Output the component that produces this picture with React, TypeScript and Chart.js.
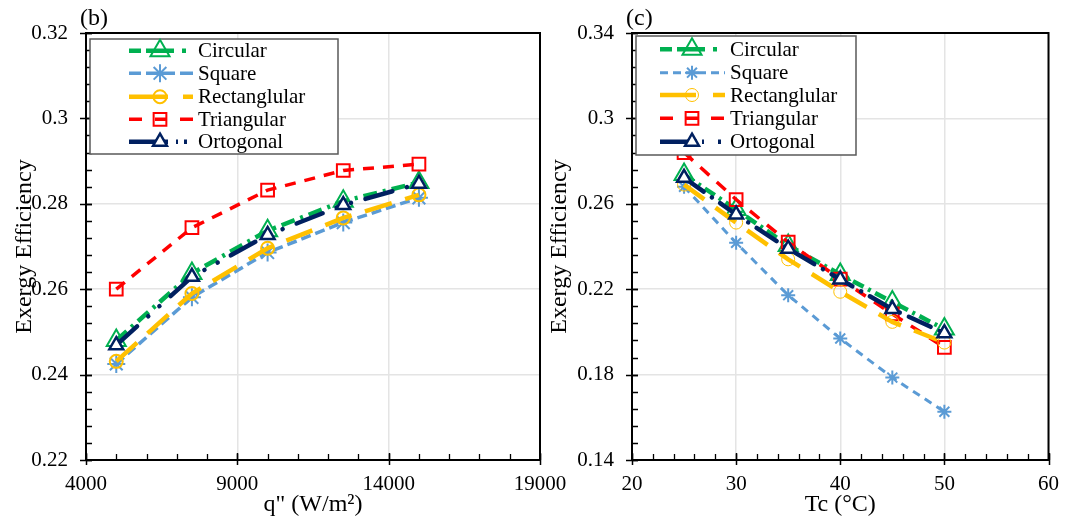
import React, { useEffect, useRef } from 'react';
import { Chart, registerables } from 'chart.js';
import { drawPoint } from 'chart.js/helpers';

Chart.register(...registerables);

// ---------- DATA ----------
const seriesNames = ['Circular', 'Square', 'Rectanglular', 'Triangular', 'Ortogonal'];

// (b) exergy efficiency vs heat flux q"
const heatFlux = [5000, 7500, 10000, 12500, 15000];
const circularB = [0.248, 0.2637, 0.2737, 0.2806, 0.285];
const squareB = [0.2425, 0.2581, 0.2686, 0.2756, 0.2814];
const rectangularB = [0.2431, 0.259, 0.2696, 0.2767, 0.2821];
const triangularB = [0.26, 0.2744, 0.2832, 0.2878, 0.2893];
const ortogonalB = [0.2469, 0.2629, 0.2727, 0.2797, 0.2847];

// (c) exergy efficiency vs Tc
const tcValues = [25, 30, 35, 40, 45, 50];
const circularC = [0.2737, 0.2573, 0.2405, 0.2269, 0.214, 0.2013];
const squareC = [0.268, 0.2417, 0.2172, 0.1969, 0.1786, 0.1626];
const rectangularC = [0.269, 0.2512, 0.234, 0.2188, 0.2047, 0.195];
const triangularC = [0.284, 0.262, 0.242, 0.2247, 0.2084, 0.1928];
const ortogonalC = [0.2722, 0.255, 0.239, 0.2246, 0.2107, 0.1994];

// ticks
const xTicksB = [4000, 9000, 14000, 19000];
const xTickLabelsB = ['4000', '9000', '14000', '19000'];
const yTicksB = [0.22, 0.24, 0.26, 0.28, 0.3, 0.32];
const yTickLabelsB = ['0.22', '0.24', '0.26', '0.28', '0.3', '0.32'];

const xTicksC = [20, 30, 40, 50, 60];
const xTickLabelsC = ['20', '30', '40', '50', '60'];
const yTicksC = [0.14, 0.18, 0.22, 0.26, 0.3, 0.34];
const yTickLabelsC = ['0.14', '0.18', '0.22', '0.26', '0.3', '0.34'];

const yTitle = 'Exergy Efficiency';
const xTitleB = 'q" (W/m²)';
const xTitleC = 'Tc (°C)';
const panelB = '(b)';
const panelC = '(c)';

// ---------- STYLES ----------
const SERIF = '"Liberation Serif", "Times New Roman", serif';
const GREEN = '#00B050';
const BLUE = '#5B9BD5';
const YELLOW = '#FFC000';
const RED = '#FF0000';
const NAVY = '#002060';

type Style = {
  color: string;
  width: number;
  dash: number[];
  cap: CanvasLineCap;
  point: string;
  radius: number;
  pbw: number;
  bg: string;
  order: number;
  legendDash: number[];
  legendCap?: CanvasLineCap;
};

const stylesB: Style[] = [
  { color: GREEN, width: 4.5, dash: [14, 6, 3, 6], cap: 'butt', point: 'triangle', radius: 11, pbw: 2, bg: 'rgba(0,0,0,0)', order: 3, legendDash: [12, 5, 28, 8, 4, 20] },
  { color: BLUE, width: 3.5, dash: [10, 5], cap: 'butt', point: 'star', radius: 9, pbw: 2, bg: 'rgba(0,0,0,0)', order: 4, legendDash: [12, 5, 29, 5, 13, 10] },
  { color: YELLOW, width: 4.5, dash: [28, 14], cap: 'butt', point: 'circle', radius: 6.5, pbw: 2, bg: 'rgba(0,0,0,0)', order: 1, legendDash: [39, 15, 10, 10] },
  { color: RED, width: 3.5, dash: [11, 9], cap: 'butt', point: 'rect', radius: 9, pbw: 2, bg: 'rgba(0,0,0,0)', order: 2, legendDash: [13, 13, 12, 13, 13, 10] },
  { color: NAVY, width: 4.5, dash: [28, 15, 0.1, 15, 0.1, 15], cap: 'round', point: 'triangle', radius: 8, pbw: 2.5, bg: '#ffffff', order: 0, legendDash: [39, 8, 2, 6, 3, 20], legendCap: 'butt' },
];

const stylesC: Style[] = [
  { color: GREEN, width: 4.5, dash: [12, 5, 3, 5], cap: 'butt', point: 'triangle', radius: 11, pbw: 2, bg: 'rgba(0,0,0,0)', order: 3, legendDash: [12, 5, 28, 8, 4, 20] },
  { color: BLUE, width: 3, dash: [8, 6], cap: 'butt', point: 'star', radius: 7, pbw: 2, bg: 'rgba(0,0,0,0)', order: 4, legendDash: [8, 5, 8, 5, 20, 5, 8, 5, 8, 10] },
  { color: YELLOW, width: 4.5, dash: [25, 14], cap: 'butt', point: 'circle', radius: 6.5, pbw: 1, bg: 'rgba(0,0,0,0)', order: 1, legendDash: [36, 17, 12, 10] },
  { color: RED, width: 3.5, dash: [12, 10], cap: 'butt', point: 'rect', radius: 9, pbw: 2, bg: 'rgba(0,0,0,0)', order: 2, legendDash: [13, 13, 12, 13, 13, 10] },
  { color: NAVY, width: 4.5, dash: [24, 10, 0.1, 10], cap: 'round', point: 'triangle', radius: 8, pbw: 2.5, bg: '#ffffff', order: 0, legendDash: [37, 5, 2, 14, 3, 20], legendCap: 'butt' },
];

type PanelCfg = {
  canvasLeft: number;
  canvasWidth: number;
  xs: number[];
  series: number[][];
  styles: Style[];
  xMin: number; xMax: number; yMin: number; yMax: number;
  xTicks: number[]; xLabels: string[];
  yTicks: number[]; yLabels: string[];
  xMinor: number; yMinor: number;
  areaLeft: number; areaRight: number;
  xTitle: string; panel: string;
  yTitleX: number;
  legendBox: [number, number, number, number];
  legendRows: number[];
  legendSample: [number, number, number];
  legendTextX: number;
};

const TOP = 33;
const BOTTOM = 460;
const H = 522;

function decorPlugin(cfg: PanelCfg) {
  return {
    id: 'decor',
    beforeDatasetsDraw(chart: any) {
      const ctx: CanvasRenderingContext2D = chart.ctx;
      const a = chart.chartArea;
      const xs = chart.scales.x;
      const ys = chart.scales.y;
      ctx.save();
      ctx.strokeStyle = '#000';
      // minor ticks
      ctx.lineWidth = 1.3;
      ctx.beginPath();
      const nx = Math.round((cfg.xMax - cfg.xMin) / cfg.xMinor);
      for (let i = 0; i <= nx; i++) {
        const px = Math.round(xs.getPixelForValue(cfg.xMin + i * cfg.xMinor)) + 0.5;
        ctx.moveTo(px, a.bottom);
        ctx.lineTo(px, a.bottom - 6);
      }
      const ny = Math.round((cfg.yMax - cfg.yMin) / cfg.yMinor);
      for (let i = 0; i <= ny; i++) {
        const py = Math.round(ys.getPixelForValue(cfg.yMin + i * cfg.yMinor)) + 0.5;
        ctx.moveTo(a.left, py);
        ctx.lineTo(a.left + 6, py);
      }
      ctx.stroke();
      // major ticks
      ctx.lineWidth = 1.5;
      ctx.beginPath();
      cfg.xTicks.forEach((v) => {
        const px = Math.round(xs.getPixelForValue(v)) + 0.5;
        ctx.moveTo(px, a.bottom + 5);
        ctx.lineTo(px, a.bottom - 7);
      });
      cfg.yTicks.forEach((v) => {
        const py = Math.round(ys.getPixelForValue(v)) + 0.5;
        ctx.moveTo(a.left - 6, py);
        ctx.lineTo(a.left + 6, py);
      });
      ctx.stroke();
      // frame
      ctx.lineWidth = 2;
      ctx.strokeRect(a.left, a.top, a.right - a.left, a.bottom - a.top);
      ctx.restore();
    },
    afterDraw(chart: any) {
      const ctx: CanvasRenderingContext2D = chart.ctx;
      const a = chart.chartArea;
      ctx.save();
      // legend box
      const [bx, by, bw, bh] = cfg.legendBox;
      ctx.fillStyle = '#ffffff';
      ctx.fillRect(bx, by, bw, bh);
      ctx.strokeStyle = '#595959';
      ctx.lineWidth = 1.5;
      ctx.strokeRect(bx, by, bw, bh);
      const [sx0, sx1, mx] = cfg.legendSample;
      seriesNames.forEach((name, i) => {
        const st = cfg.styles[i];
        const y = cfg.legendRows[i];
        ctx.save();
        ctx.strokeStyle = st.color;
        ctx.lineWidth = st.width;
        ctx.lineCap = st.legendCap || st.cap;
        ctx.setLineDash(st.legendDash);
        ctx.beginPath();
        ctx.moveTo(sx0, y);
        ctx.lineTo(sx1, y);
        ctx.stroke();
        ctx.setLineDash([]);
        ctx.lineCap = 'butt';
        ctx.strokeStyle = st.color;
        ctx.fillStyle = st.bg;
        ctx.lineWidth = st.pbw;
        drawPoint(ctx, { pointStyle: st.point, radius: st.radius, borderWidth: st.pbw, rotation: 0 } as any, mx, y);
        ctx.restore();
        ctx.fillStyle = '#000';
        ctx.font = `21px ${SERIF}`;
        ctx.textAlign = 'left';
        ctx.textBaseline = 'middle';
        ctx.fillText(name, cfg.legendTextX, y + 1);
      });
      // axis titles
      ctx.fillStyle = '#000';
      ctx.font = `24px ${SERIF}`;
      ctx.textAlign = 'center';
      ctx.textBaseline = 'middle';
      ctx.fillText(cfg.xTitle, (a.left + a.right) / 2, 505);
      ctx.save();
      ctx.translate(cfg.yTitleX, (a.top + a.bottom) / 2);
      ctx.rotate(-Math.PI / 2);
      ctx.fillText(yTitle, 0, 0);
      ctx.restore();
      // panel label
      ctx.textAlign = 'left';
      ctx.textBaseline = 'alphabetic';
      ctx.font = `24px ${SERIF}`;
      ctx.fillText(cfg.panel, a.left - 6, 25);
      ctx.restore();
    },
  };
}

function Panel({ cfg }: { cfg: PanelCfg }) {
  const ref = useRef<HTMLCanvasElement | null>(null);
  useEffect(() => {
    if (!ref.current) return;
    const datasets = seriesNames.map((name, i) => {
      const st = cfg.styles[i];
      return {
        label: name,
        data: cfg.xs.map((x, j) => ({ x, y: cfg.series[i][j] })),
        borderColor: st.color,
        borderWidth: st.width,
        borderDash: st.dash,
        borderCapStyle: st.cap,
        backgroundColor: st.bg,
        pointStyle: st.point,
        pointRadius: st.radius,
        pointBorderWidth: st.pbw,
        pointBorderColor: st.color,
        pointBackgroundColor: st.bg,
        tension: 0,
        fill: false,
        order: st.order,
      };
    });
    const font = { family: SERIF, size: 21 };
    const chart = new Chart(ref.current, {
      type: 'line',
      data: { datasets } as any,
      options: {
        animation: false,
        responsive: false,
        devicePixelRatio: 1,
        layout: { padding: { top: TOP, right: cfg.canvasWidth - cfg.areaRight, left: 0, bottom: 0 } },
        plugins: { legend: { display: false }, tooltip: { enabled: false } },
        scales: {
          x: {
            type: 'linear',
            min: cfg.xMin,
            max: cfg.xMax,
            afterBuildTicks: (s: any) => { s.ticks = cfg.xTicks.map((v) => ({ value: v })); },
            afterFit: (s: any) => { s.height = H - BOTTOM; },
            grid: { color: '#e4e4e4', lineWidth: 1.5, drawTicks: false },
            border: { display: false },
            ticks: {
              font, color: '#000', padding: 12, maxRotation: 0, autoSkip: false,
              callback: (_v: any, i: number) => cfg.xLabels[i],
            },
          },
          y: {
            type: 'linear',
            min: cfg.yMin,
            max: cfg.yMax,
            afterBuildTicks: (s: any) => { s.ticks = cfg.yTicks.map((v) => ({ value: v })); },
            afterFit: (s: any) => { s.width = cfg.areaLeft; },
            grid: { color: '#e4e4e4', lineWidth: 1.5, drawTicks: false },
            border: { display: false },
            ticks: {
              font, color: '#000', padding: 18, autoSkip: false,
              callback: (_v: any, i: number) => cfg.yLabels[i],
            },
          },
        },
      } as any,
      plugins: [decorPlugin(cfg)],
    });
    return () => chart.destroy();
  }, [cfg]);
  return (
    <canvas
      ref={ref}
      width={cfg.canvasWidth}
      height={H}
      style={{ position: 'absolute', left: cfg.canvasLeft, top: 0, width: cfg.canvasWidth, height: H }}
    />
  );
}

const cfgB: PanelCfg = {
  canvasLeft: 0,
  canvasWidth: 600,
  xs: heatFlux,
  series: [circularB, squareB, rectangularB, triangularB, ortogonalB],
  styles: stylesB,
  xMin: 4000, xMax: 19000, yMin: 0.22, yMax: 0.32,
  xTicks: xTicksB, xLabels: xTickLabelsB,
  yTicks: yTicksB, yLabels: yTickLabelsB,
  xMinor: 1000, yMinor: 0.004,
  areaLeft: 86, areaRight: 540,
  xTitle: xTitleB, panel: panelB,
  yTitleX: 25,
  legendBox: [90, 39, 248, 115],
  legendRows: [50.7, 73.3, 96.7, 119.3, 141.7],
  legendSample: [129, 193, 160],
  legendTextX: 198,
};

const cfgC: PanelCfg = {
  canvasLeft: 540,
  canvasWidth: 531,
  xs: tcValues,
  series: [circularC, squareC, rectangularC, triangularC, ortogonalC],
  styles: stylesC,
  xMin: 20, xMax: 60, yMin: 0.14, yMax: 0.34,
  xTicks: xTicksC, xLabels: xTickLabelsC,
  yTicks: yTicksC, yLabels: yTickLabelsC,
  xMinor: 2, yMinor: 0.008,
  areaLeft: 92, areaRight: 518,
  xTitle: xTitleC, panel: panelC,
  yTitleX: 20,
  legendBox: [96, 36, 220, 119],
  legendRows: [49.3, 72.7, 95, 118.3, 141.7],
  legendSample: [120, 185, 152],
  legendTextX: 190,
};

export default function App() {
  return (
    <div style={{ position: 'fixed', left: 0, top: 0, width: 1071, height: H, background: '#ffffff', overflow: 'hidden' }}>
      <Panel cfg={cfgB} />
      <Panel cfg={cfgC} />
    </div>
  );
}
